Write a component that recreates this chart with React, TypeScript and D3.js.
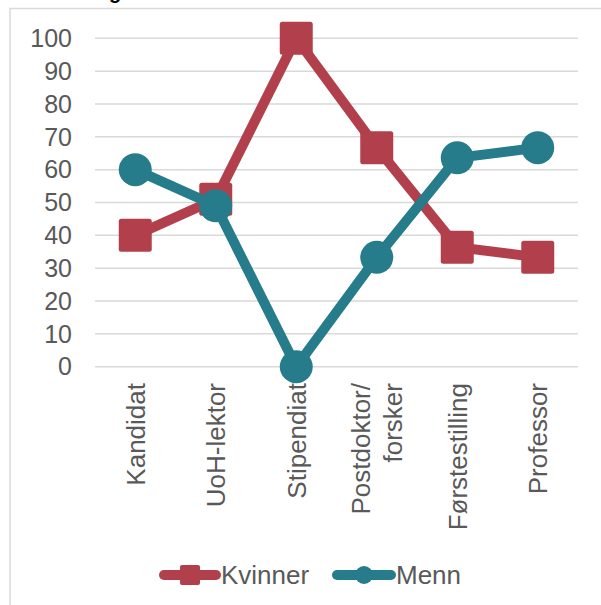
import React from "react";
import * as d3 from "d3";

const categories: string[][] = [
  ["Kandidat"],
  ["UoH-lektor"],
  ["Stipendiat"],
  ["Postdoktor/", "forsker"],
  ["Førstestilling"],
  ["Professor"],
];
const kvinner = [40, 51, 100, 66.7, 36.4, 33.3];
const menn = [60, 49, 0, 33.3, 63.6, 66.7];
const yTicks = [0, 10, 20, 30, 40, 50, 60, 70, 80, 90, 100];
const seriesNames = ["Kvinner", "Menn"];
const title = "Fordeling";

const W = 601;
const H = 605;
const RED = "#B2404C";
const TEAL = "#267C8A";
const TEXT = "#595959";
const GRID = "#D9D9D9";
const FONT = "'Liberation Sans', Arial, sans-serif";

export default function App() {
  const x = d3
    .scaleBand<number>()
    .domain(categories.map((_, i) => i))
    .range([95, 578]);
  const y = d3.scaleLinear().domain([0, 100]).range([366.7, 38.3]);
  const cx = (i: number) => (x(i) as number) + x.bandwidth() / 2;
  const line = d3
    .line<number>()
    .x((_, i) => cx(i))
    .y((d) => y(d));

  const sq = 33;
  const r = 16.5;

  return (
    <svg
      width={W}
      height={H}
      style={{ position: "absolute", left: 0, top: 0, background: "#fff" }}
      fontFamily={FONT}
    >
      <rect x={0} y={0} width={W} height={H} fill="#fff" />
      <rect
        x={10}
        y={8.5}
        width={W + 20}
        height={H + 20}
        fill="#fff"
        stroke={GRID}
        strokeWidth={1.5}
      />
      <text x={30} y={-1} fontSize={20} fontWeight="bold" fill="#000">
        {title}
      </text>
      {/* grid */}
      {yTicks.map((t) => (
        <g key={t}>
          <line
            x1={95}
            x2={578}
            y1={y(t)}
            y2={y(t)}
            stroke={GRID}
            strokeWidth={1.5}
          />
          <text
            x={72}
            y={y(t)}
            dy="0.35em"
            textAnchor="end"
            fontSize={25}
            fill={TEXT}
          >
            {t}
          </text>
        </g>
      ))}
      {/* category labels */}
      {categories.map((lines, i) => {
        const n = lines.length;
        const lh = 32;
        return (
          <g key={i}>
            {lines.map((s, k) => {
              const bx = cx(i) + 9.5 + (k - (n - 1) / 2) * lh;
              return (
                <text
                  key={k}
                  transform={`translate(${bx},383) rotate(-90)`}
                  textAnchor="end"
                  fontSize={26}
                  fill={TEXT}
                >
                  {s}
                </text>
              );
            })}
          </g>
        );
      })}
      {/* Kvinner */}
      <path
        d={line(kvinner) || ""}
        fill="none"
        stroke={RED}
        strokeWidth={10}
        strokeLinejoin="round"
      />
      {kvinner.map((v, i) => (
        <rect
          key={i}
          x={cx(i) - sq / 2}
          y={y(v) - sq / 2}
          width={sq}
          height={sq}
          rx={2.5}
          fill={RED}
        />
      ))}
      {/* Menn */}
      <path
        d={line(menn) || ""}
        fill="none"
        stroke={TEAL}
        strokeWidth={10}
        strokeLinejoin="round"
      />
      {menn.map((v, i) => (
        <circle key={i} cx={cx(i)} cy={y(v)} r={r} fill={TEAL} />
      ))}
      {/* legend */}
      <g>
        <line
          x1={164}
          x2={216}
          y1={575}
          y2={575}
          stroke={RED}
          strokeWidth={10}
          strokeLinecap="round"
        />
        <rect x={180} y={565} width={20} height={20} rx={2} fill={RED} />
        <text x={221} y={584} fontSize={26} fill={TEXT}>
          {seriesNames[0]}
        </text>
        <line
          x1={337}
          x2={391}
          y1={575}
          y2={575}
          stroke={TEAL}
          strokeWidth={10}
          strokeLinecap="round"
        />
        <circle cx={364} cy={575} r={9} fill={TEAL} />
        <text x={396} y={584} fontSize={26} fill={TEXT}>
          {seriesNames[1]}
        </text>
      </g>
    </svg>
  );
}
